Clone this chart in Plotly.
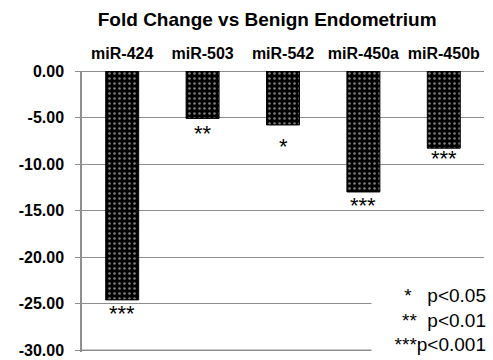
import plotly.graph_objects as go

categories = ["miR-424", "miR-503", "miR-542", "miR-450a", "miR-450b"]
fold_change = [-24.6, -5.1, -5.8, -13.0, -8.3]
significance = ["***", "**", "*", "***", "***"]
y_ticks = [0, -5, -10, -15, -20, -25, -30]
y_tick_labels = ["0.00", "-5.00", "-10.00", "-15.00", "-20.00", "-25.00", "-30.00"]
legend_lines = ["*   p<0.05", "**  p<0.01", "***p<0.001"]

# per-star vertical offset (px) relative to the bar end
star_shift = [1, -1, -7, 1, 4]

FONT = "Liberation Sans, Arial, sans-serif"
GRID = "#8e8e8e"

fig = go.Figure()
fig.add_trace(go.Bar(
    x=categories,
    y=fold_change,
    marker=dict(
        color="black",
        line=dict(color="black", width=1),
        pattern=dict(shape=".", fgcolor="white", bgcolor="black", size=5, solidity=0.2),
    ),
    width=0.41,
    showlegend=False,
    hoverinfo="skip",
))

for c, v, s, sh in zip(categories, fold_change, significance, star_shift):
    fig.add_annotation(
        x=c, y=v, text=s, showarrow=False, xanchor="center", yanchor="top",
        yshift=sh, font=dict(family=FONT, size=22, color="black"),
    )

# bottom gridline (plotly clips gridlines at the plot edge)
fig.add_hline(y=min(y_ticks), line=dict(color=GRID, width=1.5), layer="above")

fig.add_annotation(
    xref="paper", yref="paper", x=1.0, y=0.0, xanchor="right", yanchor="bottom",
    text="<br>".join(legend_lines), align="right", showarrow=False,
    bgcolor="white", borderpad=2, yshift=-6, xshift=5, width=112,
    font=dict(family=FONT, size=19, color="black"),
)

fig.update_layout(
    width=493, height=360,
    margin=dict(l=82, r=9, t=71, b=8, autoexpand=False),
    paper_bgcolor="white", plot_bgcolor="white",
    title=dict(
        text="<b>Fold Change vs Benign Endometrium</b>",
        x=0.542, xanchor="center", y=0.947, yanchor="middle",
        font=dict(family=FONT, size=19, color="black"),
    ),
    xaxis=dict(
        side="top", showgrid=False, showline=False, ticks="",
        tickfont=dict(family=FONT, size=16, color="black", weight="bold"),
        ticklabelstandoff=8, automargin=False,
    ),
    yaxis=dict(
        range=[-30.2, 0], tickvals=y_ticks, ticktext=y_tick_labels,
        showgrid=True, gridcolor=GRID, gridwidth=1,
        zeroline=True, zerolinecolor=GRID, zerolinewidth=1,
        showline=True, linecolor=GRID, linewidth=1.5,
        ticks="outside", ticklen=5, tickcolor=GRID,
        tickfont=dict(family=FONT, size=16, color="black", weight="bold"),
        ticklabelstandoff=8, automargin=False, ticklabeloverflow="allow",
    ),
)

fig.write_html("out.html", config={"displayModeBar": False},
               post_script="document.body.style.margin='0';")
